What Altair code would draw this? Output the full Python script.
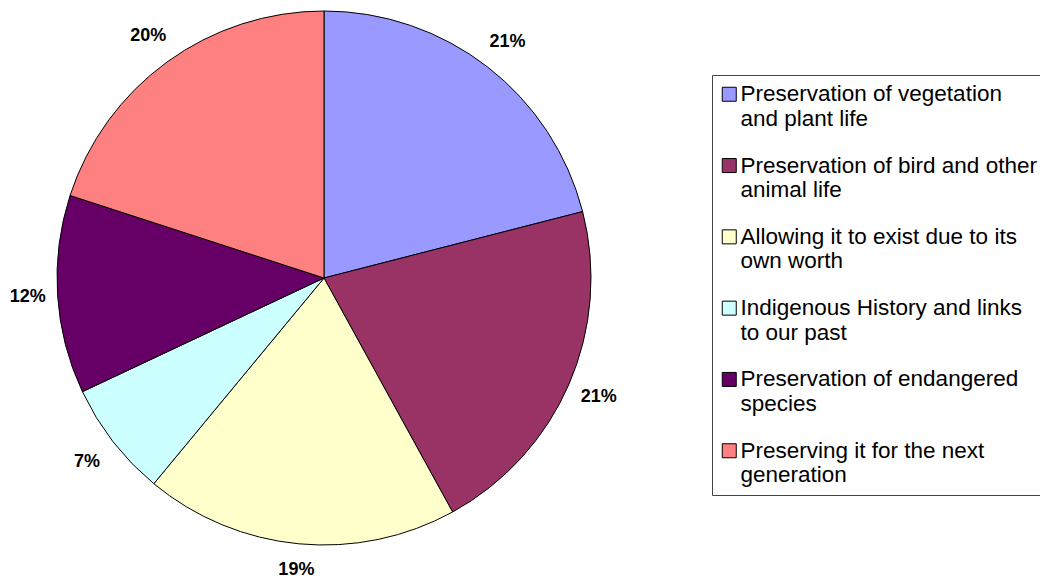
import altair as alt
import pandas as pd

categories = [
    "Preservation of vegetation\nand plant life",
    "Preservation of bird and other\nanimal life",
    "Allowing it to exist due to its\nown worth",
    "Indigenous History and links\nto our past",
    "Preservation of endangered\nspecies",
    "Preserving it for the next\ngeneration",
]
percents = [21, 21, 19, 7, 12, 20]
colors = ["#9999FF", "#993366", "#FFFFCC", "#CCFFFF", "#660066", "#FF8080"]

df = pd.DataFrame({
    "category": categories,
    "value": percents,
    "order": list(range(len(categories))),
})

base = alt.Chart(df).encode(
    order=alt.Order("order:Q"),
    x=alt.value(316),
    y=alt.value(270),
)

pie = base.mark_arc(radius=267, stroke="black", strokeWidth=1).encode(
    theta=alt.Theta("value:Q", stack=True),
    color=alt.Color(
        "category:N",
        scale=alt.Scale(domain=categories, range=colors),
        legend=alt.Legend(
            title=None,
            orient="none",
            legendX=704,
            legendY=67,
            symbolType="square",
            symbolSize=196,
            symbolStrokeColor="black",
            symbolStrokeWidth=1,
            symbolOpacity=1,
            symbolOffset=-2,
            labelFont="Liberation Sans",
            labelFontSize=22.5,
            labelColor="black",
            labelLimit=600,
            labelExpr="split(datum.label, '\\n')",
            labelOffset=0,
            strokeColor="#444444",
            padding=8,
            rowPadding=23.3,
        ),
    ),
)

# labels at each slice's mid angle; distance = gap outside the pie plus half the label box
labels = (
    base.mark_text(font="Liberation Sans", fontSize=18, fontWeight="bold", color="black")
    .encode(
        text="label:N",
        theta=alt.Theta("mid:Q", scale=None),
        radius=alt.Radius("lr:Q", scale=None),
    )
    .transform_window(cum="sum(value)", sort=[alt.SortField("order")])
    .transform_joinaggregate(total="sum(value)")
    .transform_calculate(
        label="datum.value + '%'",
        mid="(datum.cum - datum.value / 2) / datum.total * 2 * PI",
    )
    .transform_calculate(lr="280 + 16 * abs(sin(datum.mid)) + 12 * abs(cos(datum.mid))")
)

chart = (
    alt.layer(pie, labels)
    .properties(width=1032, height=570, autosize="none", padding=0)
    .configure_view(stroke=None)
)

chart.save("out.html", embed_options={"renderer": "svg", "actions": False})
